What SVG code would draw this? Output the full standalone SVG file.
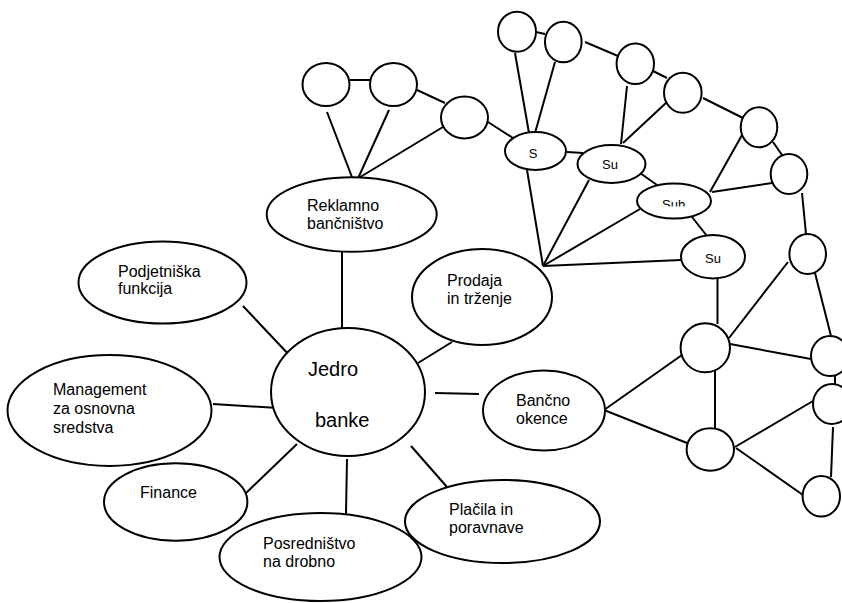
<svg xmlns="http://www.w3.org/2000/svg" width="842" height="603" viewBox="0 0 842 603">
<style>
.n{fill:#fff;stroke:#000;stroke-width:2}
.c line{stroke:#000;stroke-width:2}
.t{font-family:"Liberation Sans",Arial,sans-serif;font-size:16px;fill:#000}
.big{font-family:"Liberation Sans",Arial,sans-serif;font-size:20px;fill:#000}
.s{font-family:"Liberation Sans",Arial,sans-serif;font-size:13px;fill:#000}
</style>
<defs>
<clipPath id="subclip"><rect x="600" y="150" width="150" height="56.5"/></clipPath>
</defs>
<rect width="842" height="603" fill="#fff"/>
<g class="c" id="connectors">
<line x1="342" y1="251" x2="342" y2="330"/>
<line x1="243" y1="306" x2="292" y2="358"/>
<line x1="213" y1="404" x2="278" y2="408"/>
<line x1="246" y1="493" x2="297" y2="444"/>
<line x1="347" y1="459" x2="346" y2="514"/>
<line x1="411" y1="446" x2="447" y2="487"/>
<line x1="435" y1="393" x2="479" y2="394"/>
<line x1="418" y1="363" x2="452" y2="342"/>
<line x1="350" y1="80" x2="370" y2="80"/>
<line x1="327" y1="112" x2="355" y2="185"/>
<line x1="389" y1="110" x2="355" y2="185"/>
<line x1="443" y1="127" x2="357" y2="179"/>
<line x1="417" y1="90" x2="445" y2="103"/>
<line x1="488" y1="122" x2="513" y2="138"/>
<line x1="543" y1="266" x2="527" y2="170"/>
<line x1="543" y1="266" x2="589" y2="180"/>
<line x1="543" y1="266" x2="640" y2="209"/>
<line x1="543" y1="266" x2="681" y2="260"/>
<line x1="536" y1="32" x2="545" y2="34"/>
<line x1="515" y1="53" x2="529" y2="133"/>
<line x1="555" y1="62" x2="535" y2="133"/>
<line x1="567" y1="152" x2="583" y2="153"/>
<line x1="585" y1="42" x2="618" y2="56"/>
<line x1="653" y1="71" x2="667" y2="78"/>
<line x1="627" y1="86" x2="621" y2="144"/>
<line x1="667" y1="102" x2="623" y2="143"/>
<line x1="640" y1="173" x2="657" y2="185"/>
<line x1="692" y1="217" x2="707" y2="236"/>
<line x1="717.5" y1="278" x2="717.5" y2="324"/>
<line x1="703" y1="98" x2="743" y2="118"/>
<line x1="742" y1="135" x2="710" y2="192"/>
<line x1="773" y1="142" x2="782" y2="155"/>
<line x1="772" y1="183" x2="712" y2="192"/>
<line x1="802" y1="193" x2="806" y2="234"/>
<line x1="788" y1="262" x2="729" y2="338"/>
<line x1="815" y1="273" x2="831" y2="336"/>
<line x1="604" y1="410" x2="682" y2="355"/>
<line x1="604" y1="410" x2="687" y2="443"/>
<line x1="715" y1="371" x2="715" y2="428"/>
<line x1="730" y1="344" x2="811" y2="359"/>
<line x1="735" y1="447" x2="813" y2="401"/>
<line x1="736" y1="448" x2="803" y2="495"/>
<line x1="835" y1="376" x2="835" y2="384"/>
<line x1="833" y1="427" x2="831" y2="477"/>
</g>
<g id="jedro"><ellipse class="n" cx="348" cy="392" rx="77" ry="64"/><text class="big" x="308" y="376">Jedro</text><text class="big" x="315" y="427">banke</text></g>
<g id="reklamno"><ellipse class="n" cx="351.7" cy="214.5" rx="85" ry="37.2"/><text class="t" x="307" y="211">Reklamno</text><text class="t" x="307" y="229">bančništvo</text></g>
<g id="podjetniska"><ellipse class="n" cx="162.5" cy="282.5" rx="84" ry="41"/><text class="t" x="118" y="277">Podjetniška</text><text class="t" x="118" y="294">funkcija</text></g>
<g id="management"><ellipse class="n" cx="109.5" cy="410.5" rx="102" ry="55.5"/><text class="t" x="53" y="395">Management</text><text class="t" x="53" y="414">za osnovna</text><text class="t" x="53" y="433">sredstva</text></g>
<g id="finance"><ellipse class="n" cx="175.7" cy="502" rx="71.7" ry="38.7"/><text class="t" x="140" y="498">Finance</text></g>
<g id="posrednistvo"><ellipse class="n" cx="320.5" cy="557" rx="101" ry="44"/><text class="t" x="263" y="549">Posredništvo</text><text class="t" x="263" y="567">na drobno</text></g>
<g id="placila"><ellipse class="n" cx="502.5" cy="521.5" rx="97.5" ry="41.5"/><text class="t" x="449" y="515">Plačila in</text><text class="t" x="449" y="533">poravnave</text></g>
<g id="bancno"><ellipse class="n" cx="544" cy="410.5" rx="61" ry="40"/><text class="t" x="516" y="406">Bančno</text><text class="t" x="516" y="424">okence</text></g>
<g id="prodaja"><ellipse class="n" cx="482" cy="297" rx="70" ry="48"/><text class="t" x="447" y="286">Prodaja</text><text class="t" x="447" y="304">in trženje</text></g>
<g id="a1"><ellipse class="n" cx="326" cy="84.5" rx="23.5" ry="21.5"/></g>
<g id="a2"><ellipse class="n" cx="393.5" cy="84.5" rx="23.5" ry="21.5"/></g>
<g id="a3"><ellipse class="n" cx="464.5" cy="117.5" rx="23.5" ry="21"/></g>
<g id="s"><ellipse class="n" cx="535.5" cy="151" rx="30.5" ry="19"/><text class="s" x="533" y="158" text-anchor="middle">S</text></g>
<g id="su1"><ellipse class="n" cx="611.5" cy="164" rx="34" ry="19"/><text class="s" x="602" y="169">Su</text></g>
<g id="sub"><ellipse class="n" cx="674" cy="201" rx="37" ry="17.5"/><text class="s" x="662" y="208.5" clip-path="url(#subclip)">Sub</text></g>
<g id="su2"><ellipse class="n" cx="713" cy="256.7" rx="32" ry="21.7"/><text class="s" x="705" y="262.5">Su</text></g>
<g id="d1"><ellipse class="n" cx="517" cy="31.7" rx="19" ry="20"/></g>
<g id="d2"><ellipse class="n" cx="563.3" cy="42" rx="18.3" ry="20.3"/></g>
<g id="d3"><ellipse class="n" cx="635.3" cy="63.7" rx="18.7" ry="20.3"/></g>
<g id="d4"><ellipse class="n" cx="682.8" cy="92.7" rx="18.8" ry="20"/></g>
<g id="d5"><ellipse class="n" cx="759" cy="127.3" rx="18.3" ry="20"/></g>
<g id="d6"><ellipse class="n" cx="789" cy="174" rx="18.3" ry="20"/></g>
<g id="d7"><ellipse class="n" cx="807.7" cy="254" rx="18.3" ry="20"/></g>
<g id="e1"><ellipse class="n" cx="705.3" cy="347.8" rx="24.7" ry="24.5"/></g>
<g id="e2"><ellipse class="n" cx="710.3" cy="449.5" rx="23.7" ry="21.2"/></g>
<g id="e3"><ellipse class="n" cx="830" cy="356" rx="19" ry="20"/></g>
<g id="e4"><ellipse class="n" cx="832" cy="404" rx="19" ry="20"/></g>
<g id="e5"><ellipse class="n" cx="821.3" cy="496.3" rx="18.7" ry="20.3"/></g>
</svg>
